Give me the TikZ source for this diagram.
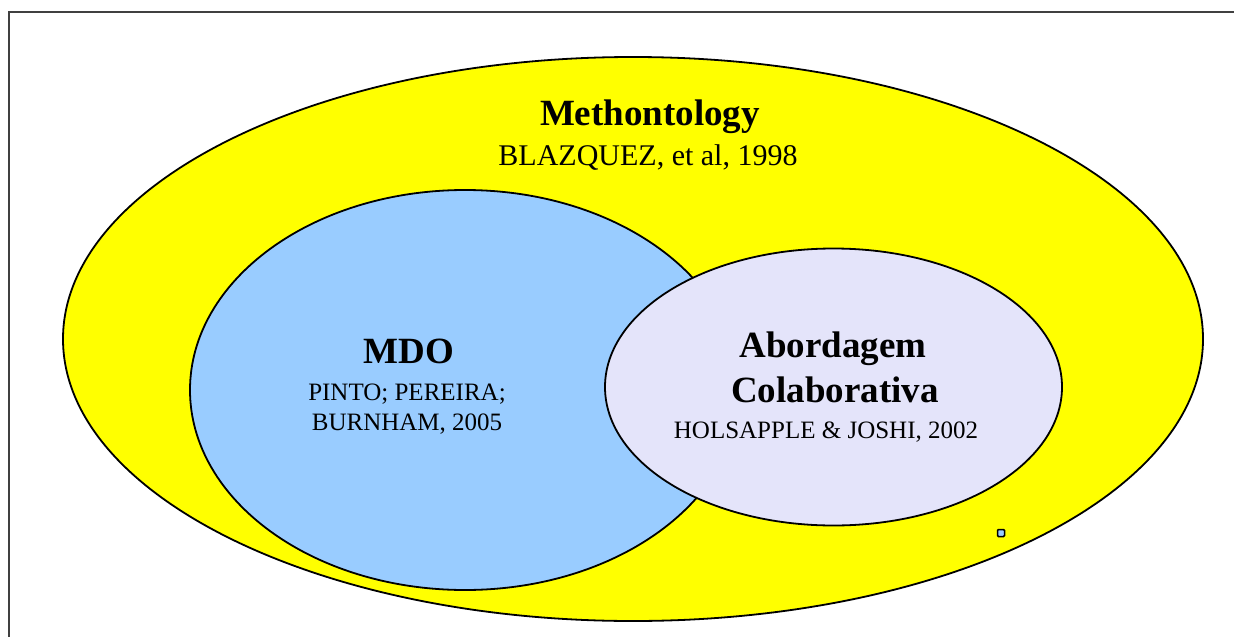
\documentclass[tikz,border=0pt]{standalone}
\usepackage{fontspec}
\setmainfont{Liberation Serif}
\usetikzlibrary{shapes.geometric}
\definecolor{setyellow}{RGB}{255,255,0}
\definecolor{setblue}{RGB}{153,204,255}
\definecolor{setlavender}{RGB}{228,228,250}
\definecolor{framegray}{RGB}{64,64,64}
\tikzset{
  setshape/.style={ellipse, draw=black, line width=1.8pt, inner sep=0pt},
  title/.style={anchor=base, font=\fontsize{37}{40}\selectfont\bfseries},
  cite/.style={anchor=base, font=\fontsize{25}{30}\selectfont},
  bigcite/.style={anchor=base, font=\fontsize{30}{34}\selectfont},
}
\begin{document}
\begin{tikzpicture}[x=1pt, y=-1pt]
  \useasboundingbox (0,0) rectangle (1234,637);
  \clip (0,0) rectangle (1234,637);
  \fill[white] (0,0) rectangle (1234,637);
  % outer frame (runs past the right and bottom edges)
  \draw[framegray, line width=2.5pt] (9,660) -- (9,12) -- (1260,12);

  % the three sets
  \node[setshape, fill=setyellow, minimum width=1140pt, minimum height=564pt] (meth) at (633,339) {};
  \node[setshape, fill=setblue, minimum width=550pt, minimum height=400pt] (mdo) at (465,390) {};
  \node[setshape, fill=setlavender, minimum width=457pt, minimum height=277pt] (colab) at (833.5,387) {};

  % stray marker
  \node[draw=black, fill=setblue, line width=1.5pt, minimum size=7pt, inner sep=0pt, rounded corners=1pt] (mark) at (1001,533) {};

  % labels
  \node[title] (methT) at (650,125) {Methontology};
  \node[bigcite] (methC) at (648,165) {BLAZQUEZ, et al, 1998};

  \node[title] (mdoT) at (409,363) {MDO};
  \node[cite] (mdoC1) at (407,400) {PINTO; PEREIRA;};
  \node[cite] (mdoC2) at (407,430) {BURNHAM, 2005};

  \node[title] (colT1) at (833,357) {Abordagem};
  \node[title] (colT2) at (835,402) {Colaborativa};
  \node[cite] (colC) at (826,438) {HOLSAPPLE \& JOSHI, 2002};
\end{tikzpicture}
\end{document}
